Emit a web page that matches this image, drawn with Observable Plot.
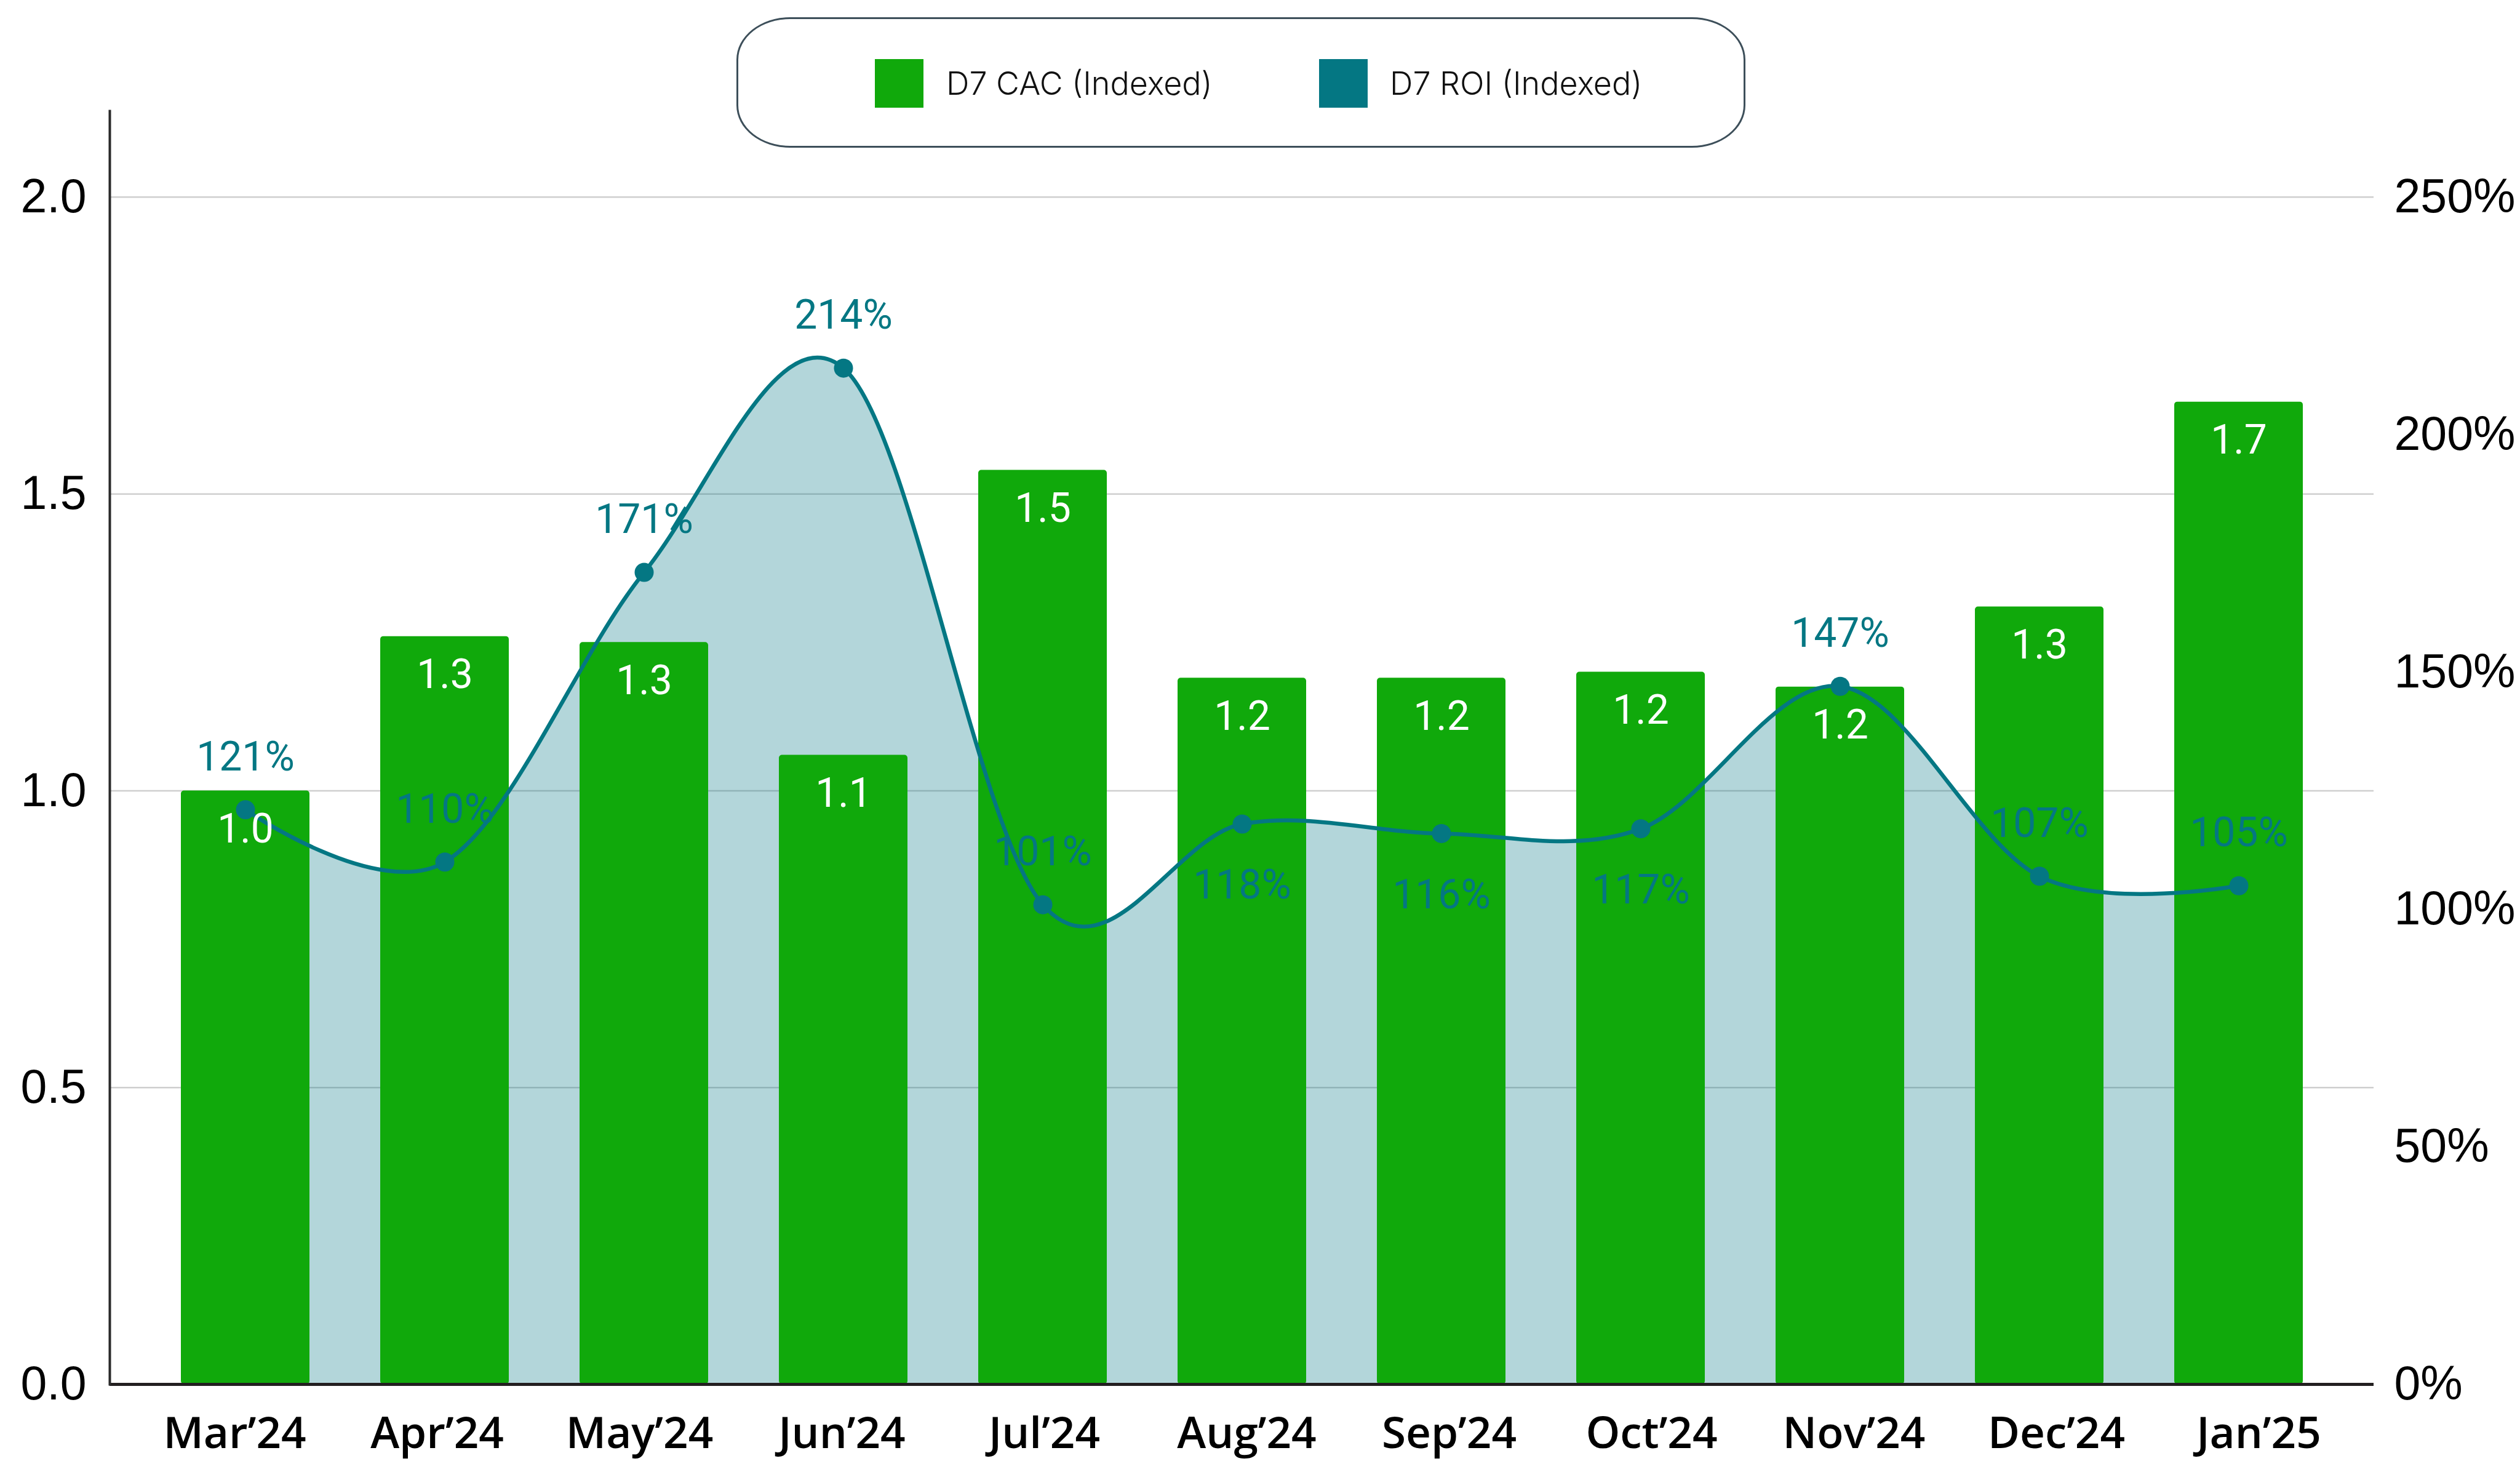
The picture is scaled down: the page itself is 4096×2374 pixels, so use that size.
<!DOCTYPE html>
<html>
<head>
<meta charset="utf-8">
<script src="https://cdn.jsdelivr.net/npm/d3@7"></script>
<script src="https://cdn.jsdelivr.net/npm/@observablehq/plot@0.6"></script>
<style>
  html, body { margin: 0; padding: 0; background: #fff; }
  #wrap { position: relative; width: 4096px; height: 2374px; overflow: hidden; background: #fff; }
  #chart { position: absolute; left: 0; top: 0; }
  #xlabels { position: absolute; left: 0; top: 2249px; }
  #legend {
    position: absolute; left: 1197px; top: 28px; width: 1640px; height: 212px;
    box-sizing: border-box; border: 3px solid #3d4f5a; border-radius: 87px / 69px; background: #fff;
  }
  .sw { position: absolute; top: 65px; width: 79px; height: 79px; }
  .lt { position: absolute; top: 75px; height: 60px; line-height: 60px; font-family: Inter, Roboto, sans-serif;
        font-weight: 300; font-size: 52px; color: #111; white-space: nowrap; }
</style>
</head>
<body>
<div id="wrap">
  <div id="chart"></div>
  <div id="xlabels"></div>
  <div id="legend"></div>
</div>
<script>
// ---- data ----
const months = ["Mar’24", "Apr’24", "May’24", "Jun’24", "Jul’24", "Aug’24", "Sep’24", "Oct’24", "Nov’24", "Dec’24", "Jan’25"];
const cac = [1.00, 1.26, 1.25, 1.06, 1.54, 1.19, 1.19, 1.20, 1.175, 1.31, 1.655];
const roi = [121, 110, 171, 214, 101, 118, 116, 117, 147, 107, 105];
const leftTicks = [0, 0.5, 1.0, 1.5, 2.0];
const rightTicks = [0, 50, 100, 150, 200, 250];
const roiLabelsBelow = ["Aug’24", "Sep’24", "Oct’24"];
const seriesNames = ["D7 CAC (Indexed)", "D7 ROI (Indexed)"];
const seriesColors = ["#10a90b", "#047783"];
// 250% on the right axis lines up with 2.0 on the left axis
const roiPerCac = 125;

const rows = months.map((m, i) => ({month: m, cac: cac[i], roi: roi[i], roiY: roi[i] / roiPerCac}));

const GREEN = seriesColors[0];
const TEAL = seriesColors[1];

const chart = Plot.plot({
  width: 4096,
  height: 2374,
  marginLeft: 178,
  marginRight: 238,
  marginTop: 180,
  marginBottom: 125,
  style: {background: "white", color: "black", overflow: "visible"},
  x: {type: "band", domain: months, padding: 0.356, axis: null},
  y: {domain: [0, 2.145], axis: null},
  marks: [
    Plot.ruleY(leftTicks.filter(t => t > 0), {stroke: "#cfcfcf", strokeWidth: 2.5}),
    Plot.areaY(rows, {x: "month", y: "roiY", curve: "cardinal", fill: TEAL, fillOpacity: 0.3}),
    Plot.barY(rows, {x: "month", y: "cac", fill: GREEN, rx: 5}),
    Plot.lineY(rows, {x: "month", y: "roiY", curve: "cardinal", stroke: TEAL, strokeWidth: 6.5}),
    Plot.dot(rows, {x: "month", y: "roiY", r: 15.5, fill: TEAL, stroke: "none"}),
    Plot.text(rows.filter(d => !roiLabelsBelow.includes(d.month)), {
      x: "month", y: "roiY", text: d => d.roi + "%", dy: -85,
      fill: TEAL, fontSize: 66, fontFamily: "Roboto"
    }),
    Plot.text(rows.filter(d => roiLabelsBelow.includes(d.month)), {
      x: "month", y: "roiY", text: d => d.roi + "%", dy: 100,
      fill: TEAL, fontSize: 66, fontFamily: "Roboto"
    }),
    Plot.text(rows, {
      x: "month", y: "cac", text: d => d.cac.toFixed(1), dy: 63,
      fill: "white", fontSize: 66, fontFamily: "Roboto"
    }),
    Plot.ruleY([0], {stroke: "#231f20", strokeWidth: 5}),
    Plot.frame({anchor: "left", stroke: "#2b2b2b", strokeWidth: 4}),
    Plot.axisY(leftTicks, {
      anchor: "left", tickSize: 0, tickPadding: 38, tickFormat: d => d.toFixed(1),
      fontSize: 77, fontFamily: "Liberation Sans", fill: "black"
    }),
    Plot.axisY(rightTicks.map(t => t / roiPerCac), {
      anchor: "right", tickSize: 0, tickPadding: 33, tickFormat: d => Math.round(d * roiPerCac) + "%",
      fontSize: 77, fontFamily: "Liberation Sans", fill: "black"
    })
  ]
});
document.getElementById("chart").append(chart);

const xl = Plot.plot({
  width: 4096,
  height: 125,
  marginLeft: 376,
  marginRight: 421,
  marginTop: 0,
  marginBottom: 124,
  style: {background: "transparent", color: "black", overflow: "visible"},
  x: {type: "point", domain: months, padding: 0, axis: null},
  marks: [
    Plot.axisX({
      anchor: "bottom", tickSize: 0, tickPadding: 52,
      fontSize: 71, fontFamily: "Open Sans", fontWeight: 600, fill: "black"
    })
  ]
});
document.getElementById("xlabels").append(xl);

// legend
const legend = document.getElementById("legend");
const swLeft = [222, 944];
const txLeft = [338, 1059];
seriesNames.forEach((name, i) => {
  const sw = document.createElement("div");
  sw.className = "sw";
  sw.style.left = swLeft[i] + "px";
  sw.style.background = seriesColors[i];
  legend.append(sw);
  const t = document.createElement("div");
  t.className = "lt";
  t.style.left = txLeft[i] + "px";
  t.textContent = name;
  legend.append(t);
});
</script>
</body>
</html>
